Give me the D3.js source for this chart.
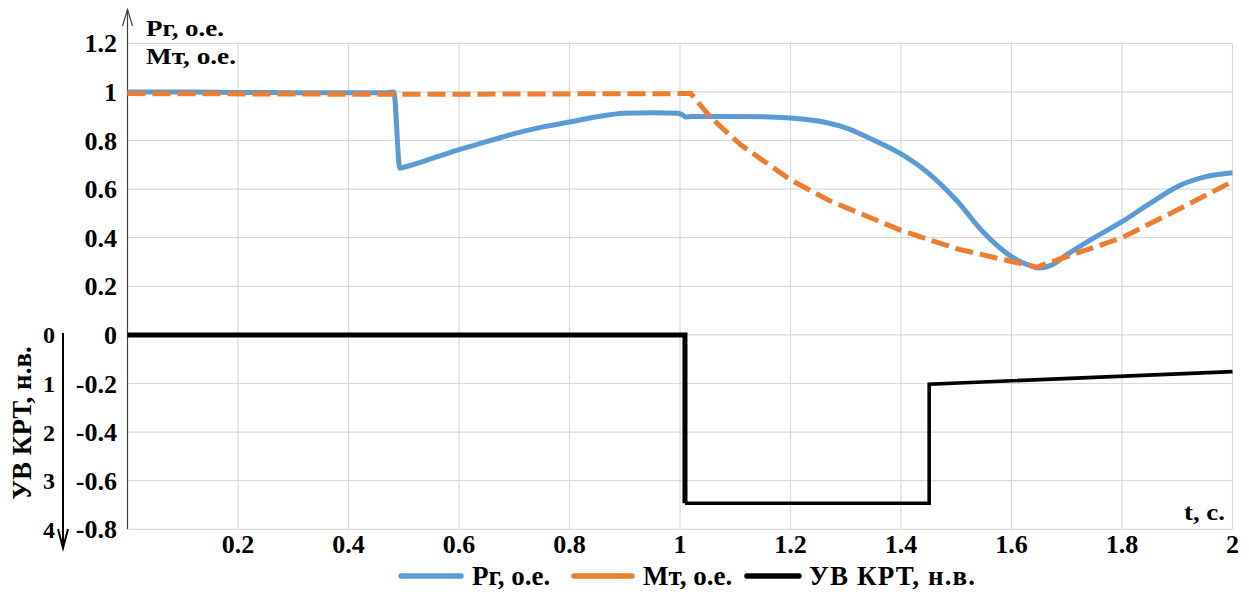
<!DOCTYPE html>
<html><head><meta charset="utf-8">
<script src="https://cdn.jsdelivr.net/npm/d3@7"></script>
<style>
body{margin:0;background:#fff;}
</style></head>
<body><svg id="chart" width="1249" height="592"></svg>
<script>
// ---- data ----
const xTickValues = [0.2,0.4,0.6,0.8,1,1.2,1.4,1.6,1.8,2];
const xTickLabels = ["0.2","0.4","0.6","0.8","1","1.2","1.4","1.6","1.8","2"];
const yTickValues = [1.2,1,0.8,0.6,0.4,0.2,0,-0.2,-0.4,-0.6,-0.8];
const yTickLabels = ["1.2","1","0.8","0.6","0.4","0.2","0","-0.2","-0.4","-0.6","-0.8"];
const uvAxisValues = [0,-0.2,-0.4,-0.6,-0.8];
const uvAxisLabels = ["0","1","2","3","4"];

const pgTime  = [0,0.1,0.2,0.3,0.4,0.47,0.482,0.493,0.5,0.55,0.6,0.65,0.7,0.75,0.8,0.85,0.9,0.95,0.995,1.005,1.01,1.02,1.1,1.2,1.25,1.3,1.35,1.4,1.45,1.5,1.55,1.6,1.63,1.65,1.67,1.7,1.75,1.8,1.85,1.9,1.95,2.0];
const pgValue = [1.0,1.0,0.998,0.997,0.997,0.997,1.0,0.686,0.69,0.725,0.762,0.795,0.828,0.855,0.876,0.898,0.912,0.914,0.912,0.905,0.897,0.899,0.899,0.893,0.88,0.852,0.802,0.745,0.665,0.555,0.42,0.322,0.288,0.275,0.285,0.33,0.4,0.466,0.54,0.61,0.65,0.667];

const mtTime  = [0,0.5,1.0,1.02,1.054,1.11,1.2,1.27,1.4,1.5,1.6,1.646,1.7,1.8,1.9,2.0];
const mtValue = [0.993,0.99,0.993,0.993,0.898,0.782,0.638,0.553,0.43,0.355,0.302,0.279,0.322,0.4,0.514,0.631];

const uvTime  = [0,1.009,1.009,1.451,1.451,2.0];
const uvValue = [0,0,-0.693,-0.693,-0.203,-0.151];

const seriesNames = ["Рг, о.е.","Мт, о.е.","УВ КРТ, н.в."];
const seriesColors = ["#5b9bd5","#ed7d31","#000000"];

// ---- layout ----
const FONT = "'Liberation Serif', 'Times New Roman', 'DejaVu Serif', serif";
const svg = d3.select("#chart");
const x = d3.scaleLinear().domain([0,2]).range([127.5,1232.5]);
const y = d3.scaleLinear().domain([-0.8,1.2]).range([529.3,43.3]);

function txt(sel, size){ return sel.attr("font-family",FONT).attr("font-weight","bold").attr("font-size",size).attr("fill","#000"); }

// gridlines
const grid = svg.append("g");
grid.selectAll("line.h").data(yTickValues).join("line")
  .attr("x1",x(0)).attr("x2",x(2)).attr("y1",d=>y(d)).attr("y2",d=>y(d))
  .attr("stroke","#d9d9d9").attr("stroke-width",1.2);
grid.selectAll("line.v").data(xTickValues).join("line")
  .attr("x1",d=>x(d)).attr("x2",d=>x(d)).attr("y1",y(1.2)).attr("y2",y(-0.8))
  .attr("stroke","#d9d9d9").attr("stroke-width",1.2);

// left axis with arrow
svg.append("line").attr("x1",x(0)).attr("x2",x(0)).attr("y1",y(-0.8)).attr("y2",10)
  .attr("stroke","#404040").attr("stroke-width",1.2);
svg.append("path").attr("d",`M${x(0)-5},26 L${x(0)},9.5 L${x(0)+5},26`)
  .attr("fill","none").attr("stroke","#404040").attr("stroke-width",1.2);

// y tick labels
txt(svg.append("g").selectAll("text").data(yTickValues).join("text")
  .attr("x",117).attr("y",d=>y(d)).attr("dy","0.35em")
  .attr("text-anchor","end"), 26)
  .text((d,i)=>yTickLabels[i]);

// x tick labels
txt(svg.append("g").selectAll("text").data(xTickValues).join("text")
  .attr("x",d=>x(d)).attr("y",553)
  .attr("text-anchor","middle"), 26)
  .text((d,i)=>xTickLabels[i]);

// secondary UV axis
txt(svg.append("g").selectAll("text").data(uvAxisValues).join("text")
  .attr("x",49).attr("y",d=>y(d)).attr("dy","0.35em")
  .attr("text-anchor","middle"), 24)
  .text((d,i)=>uvAxisLabels[i]);
svg.append("line").attr("x1",63).attr("x2",63).attr("y1",333).attr("y2",547)
  .attr("stroke","#000").attr("stroke-width",2);
svg.append("path").attr("d","M58,529 L63,548 L68,529")
  .attr("fill","none").attr("stroke","#000").attr("stroke-width",2);
txt(svg.append("text").attr("transform","translate(31,423) rotate(-90)")
  .attr("text-anchor","middle"), 27).text("УВ КРТ, н.в.");

// axis titles
txt(svg.append("text").attr("x",146).attr("y",36)
  .attr("textLength",78).attr("lengthAdjust","spacingAndGlyphs"), 23).text("Рг, о.е.");
txt(svg.append("text").attr("x",146).attr("y",64)
  .attr("textLength",90).attr("lengthAdjust","spacingAndGlyphs"), 23).text("Мт, о.е.");
txt(svg.append("text").attr("x",1184).attr("y",520)
  .attr("textLength",41).attr("lengthAdjust","spacingAndGlyphs"), 24).text("t, с.");

// series
const lineSmooth = d3.line().x(d=>x(d[0])).y(d=>y(d[1])).curve(d3.curveMonotoneX);
const lineLin = d3.line().x(d=>x(d[0])).y(d=>y(d[1]));
svg.append("path").datum(d3.zip(pgTime,pgValue)).attr("d",lineSmooth)
  .attr("fill","none").attr("stroke",seriesColors[0]).attr("stroke-width",5).attr("stroke-linejoin","round");
svg.append("path").datum(d3.zip(mtTime,mtValue)).attr("d",lineLin)
  .attr("fill","none").attr("stroke",seriesColors[1]).attr("stroke-width",5)
  .attr("stroke-dasharray","18,7");
const uvPts = d3.zip(uvTime,uvValue);
svg.append("path").datum(uvPts.slice(2)).attr("d",lineLin)
  .attr("fill","none").attr("stroke",seriesColors[2]).attr("stroke-width",3.6);
svg.append("path").datum(uvPts.slice(0,3)).attr("d",lineLin)
  .attr("fill","none").attr("stroke",seriesColors[2]).attr("stroke-width",5);

// legend
const legX = [401,574,747];
const legW = [60,58,52];
const legTextX = [472,643,809];
const legTextLen = [null,null,166];
const leg = svg.append("g");
seriesNames.forEach((n,i)=>{
  leg.append("line").attr("x1",legX[i]).attr("x2",legX[i]+legW[i]).attr("y1",576).attr("y2",576)
    .attr("stroke",seriesColors[i]).attr("stroke-width",5.5).attr("stroke-linecap","round");
  const t = txt(leg.append("text").attr("x",legTextX[i]).attr("y",585), 27).text(n);
  if (legTextLen[i]) t.attr("textLength",legTextLen[i]).attr("lengthAdjust","spacing");
});
</script></body></html>
